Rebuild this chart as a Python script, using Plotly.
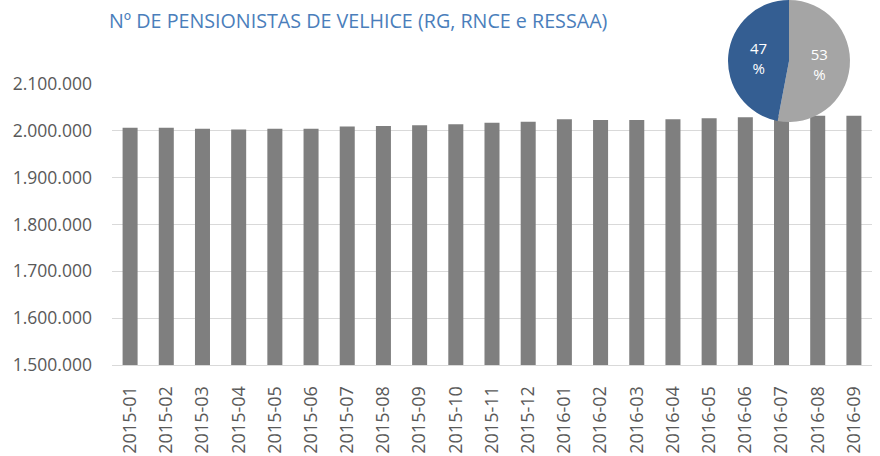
import plotly.graph_objects as go

months = [
    "2015-01", "2015-02", "2015-03", "2015-04", "2015-05", "2015-06", "2015-07",
    "2015-08", "2015-09", "2015-10", "2015-11", "2015-12", "2016-01", "2016-02",
    "2016-03", "2016-04", "2016-05", "2016-06", "2016-07", "2016-08", "2016-09",
]
pensionistas = [
    2006800, 2006800, 2004700, 2002600, 2004700, 2004700, 2009000,
    2010200, 2011700, 2013900, 2017500, 2019600, 2024500, 2023000,
    2023000, 2024500, 2026700, 2028800, 2030900, 2032400, 2032400,
]
pie_labels = ["B", "A"]
pie_values = [53, 47]

fig = go.Figure()

fig.add_trace(go.Bar(
    x=months,
    y=pensionistas,
    marker=dict(color="#7f7f7f", line=dict(width=0)),
    showlegend=False,
))

# pie sits in the top-right corner, over the bars
fig.add_trace(go.Pie(
    labels=pie_labels,
    values=pie_values,
    sort=False,
    direction="clockwise",
    rotation=0,
    marker=dict(colors=["#a5a5a5", "#345e92"], line=dict(width=0)),
    texttemplate="%{value}<br>%",
    textinfo="text",
    textposition="inside",
    insidetextorientation="horizontal",
    textfont=dict(family="Open Sans", size=15, color="white"),
    domain=dict(x=[0.8105, 0.9711], y=[0.6658, 1.0]),
    showlegend=False,
    hoverinfo="label+percent",
))

fig.update_layout(
    width=880,
    height=456,
    margin=dict(l=112, r=8, t=0, b=91),
    paper_bgcolor="white",
    plot_bgcolor="white",
    bargap=0.585,
    separators=",.",
    font=dict(family="Open Sans", color="#595959"),
    title=dict(
        text="Nº DE PENSIONISTAS DE VELHICE (RG, RNCE e RESSAA)",
        x=109 / 880, xanchor="left", y=1 - 21 / 456, yanchor="middle",
        font=dict(family="Open Sans", size=19.7, color="#4a7ebb"),
    ),
    xaxis=dict(
        type="category",
        tickangle=-90,
        tickfont=dict(size=18, color="#595959"),
        showgrid=False,
        showline=True,
        linecolor="#d9d9d9",
        ticks="",
        automargin=False,
        ticklabelstandoff=13,
    ),
    yaxis=dict(
        domain=[0, 281 / 365],
        range=[1500000, 2100000],
        dtick=100000,
        tickformat=",d",
        tickfont=dict(size=17.5, color="#595959"),
        gridcolor="#d9d9d9",
        zeroline=False,
        ticks="",
        automargin=False,
        ticklabelstandoff=19,
    ),
)

fig.write_html(
    "out.html",
    config={"displayModeBar": False},
    post_script="document.body.style.margin='0';",
)
